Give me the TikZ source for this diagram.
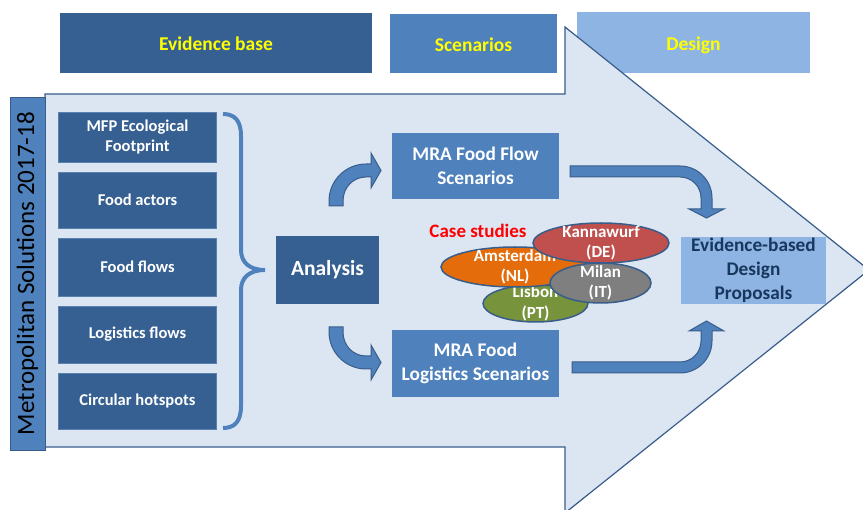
\documentclass[tikz,border=0pt]{standalone}
\usepackage{fontspec}
\setmainfont{Carlito}
\usetikzlibrary{shapes.geometric}
\definecolor{dkblue}{HTML}{366092}
\definecolor{mdblue}{HTML}{4F81BD}
\definecolor{ltblue}{HTML}{8DB4E2}
\definecolor{paleblue}{HTML}{DCE6F2}
\definecolor{edgeblue}{HTML}{385D8A}
\definecolor{boxedge}{HTML}{5A80B0}
\definecolor{navy}{HTML}{17375E}
\definecolor{kred}{HTML}{C0504D}
\definecolor{aorange}{HTML}{E46C0A}
\definecolor{lgreen}{HTML}{77933C}
\definecolor{mgrey}{HTML}{7F7F7F}
\definecolor{hdryellow}{HTML}{FFFF00}
\begin{document}
\begin{tikzpicture}[x=1pt,y=-1pt,
  box/.style={rectangle, inner sep=0pt, outer sep=0pt, align=center, text=white},
  hdr/.style={box, text=hdryellow, text height=17pt, text depth=1pt,
     font=\fontsize{19.5}{23}\selectfont\bfseries},
  leftbox/.style={box, fill=dkblue, draw=boxedge, line width=0.8pt, minimum width=158,
     font=\fontsize{16.5}{20}\selectfont\bfseries},
  scenbox/.style={box, fill=mdblue, minimum width=167,
     font=\fontsize{19.3}{24}\selectfont\bfseries},
  blockarrow/.style={fill=mdblue, draw=edgeblue, line width=1pt},
  casell/.style={ellipse, draw=edgeblue, line width=1.5pt, inner sep=0pt},
  casetext/.style={box, font=\fontsize{17}{20.5}\selectfont\bfseries}
]
\useasboundingbox (0,0) rectangle (863,510);

% header boxes
\node[hdr, fill=dkblue, minimum width=312, minimum height=60] (eb) at (216,43) {Evidence base};
\node[hdr, fill=mdblue, minimum width=167, minimum height=59] (sc) at (473.5,43.5) {Scenarios};
\node[hdr, fill=ltblue, minimum width=233, minimum height=61] (ds) at (693.5,42.5) {Design};

% big arrow body
\draw[fill=paleblue, draw=edgeblue, line width=1.2pt]
  (45,94) -- (565,94) -- (565,27) -- (869,270) -- (565,513) -- (565,447) -- (45,447) -- cycle;

% vertical bar
\node[box, rotate=90, fill=mdblue, draw=edgeblue, line width=0.9pt,
      minimum width=353, minimum height=35, text=black,
      font=\fontsize{25}{29}\selectfont] (bar) at (27.5,273.5) {Metropolitan Solutions 2017-18};

% left boxes
\node[leftbox, minimum height=50] (mfp) at (137.5,137) {MFP Ecological\\Footprint};
\node[leftbox, minimum height=56] (act) at (137.5,200) {Food actors};
\node[leftbox, minimum height=58] (ffl) at (137.5,267) {Food flows};
\node[leftbox, minimum height=57] (lfl) at (137.5,334.5) {Logistics flows};
\node[leftbox, minimum height=56] (chs) at (137.5,401) {Circular hotspots};

% brace
\draw[mdblue, line width=4pt]
  (223,114) .. controls (235,114) and (241,121) .. (241,136) -- (241,250)
  .. controls (241,262) and (249,270) .. (265,270)
  .. controls (249,270) and (241,278) .. (241,290) -- (241,406)
  .. controls (241,421) and (235,428) .. (223,428);

% analysis
\node[box, fill=dkblue, minimum width=103, minimum height=68,
      font=\fontsize{21.5}{26}\selectfont\bfseries] (ana) at (327.5,270) {Analysis};

% scenario boxes
\node[scenbox, minimum height=66] (mra1) at (475.5,166) {MRA Food Flow\\Scenarios};
\node[scenbox, minimum height=67] (mra2) at (475.5,363.5) {MRA Food\\Logistics Scenarios};

% curved arrows left
\draw[blockarrow] (329,206) -- (329,201) .. controls (329,180.6) and (345.6,164) .. (366,164)
  -- (371,164) -- (371,153) -- (381,170.5) -- (371,188) -- (371,177) -- (366,177)
  .. controls (353.3,177) and (343,187.3) .. (343,201) -- (343,206) -- cycle;
\draw[blockarrow] (329,327) -- (329,332) .. controls (329,352.4) and (345.6,369) .. (366,369)
  -- (371,369) -- (371,380) -- (381,362.5) -- (371,345) -- (371,356) -- (366,356)
  .. controls (353.3,356) and (343,345.7) .. (343,332) -- (343,327) -- cycle;

% curved arrows right
\draw[blockarrow] (570,166) -- (680,166) .. controls (697.7,166) and (712,180.3) .. (712,198)
  -- (712,209) -- (724,209) -- (706.5,218) -- (689,209) -- (701,209) -- (701,198)
  .. controls (701,186.4) and (691.6,177) .. (680,177) -- (570,177) -- cycle;
\draw[blockarrow] (572,373) -- (680,373) .. controls (697.7,373) and (712,358.7) .. (712,341)
  -- (712,331) -- (724,331) -- (706.5,321) -- (689,331) -- (701,331) -- (701,341)
  .. controls (701,352.6) and (691.6,362) .. (680,362) -- (572,362) -- cycle;

% design proposals
\node[box, fill=ltblue, minimum width=145, minimum height=67, text=navy,
      font=\fontsize{19.3}{24}\selectfont\bfseries] (edp) at (753.5,270.5) {Evidence-based\\Design\\Proposals};

% case studies
\node[box, text=red, font=\fontsize{19}{22}\selectfont\bfseries] (cs) at (478,231) {Case studies};

\node[casell, fill=lgreen, minimum width=105, minimum height=37] (lis) at (535.5,303.5) {};
\node[casetext] (listx) at (lis.center) {Lisbon\\(PT)};
\node[casell, fill=aorange, minimum width=148, minimum height=40] (ams) at (515,267) {};
\node[casetext] (amstx) at (ams.center) {Amsterdam\\(NL)};
\node[casell, fill=kred, minimum width=136, minimum height=40] (kan) at (601,243) {};
\node[casetext] (kantx) at (kan.center) {Kannawurf\\(DE)};
\node[casell, fill=mgrey, minimum width=101, minimum height=40] (mil) at (600.5,283) {};
\node[casetext] (miltx) at (mil.center) {Milan\\(IT)};
\end{tikzpicture}
\end{document}
